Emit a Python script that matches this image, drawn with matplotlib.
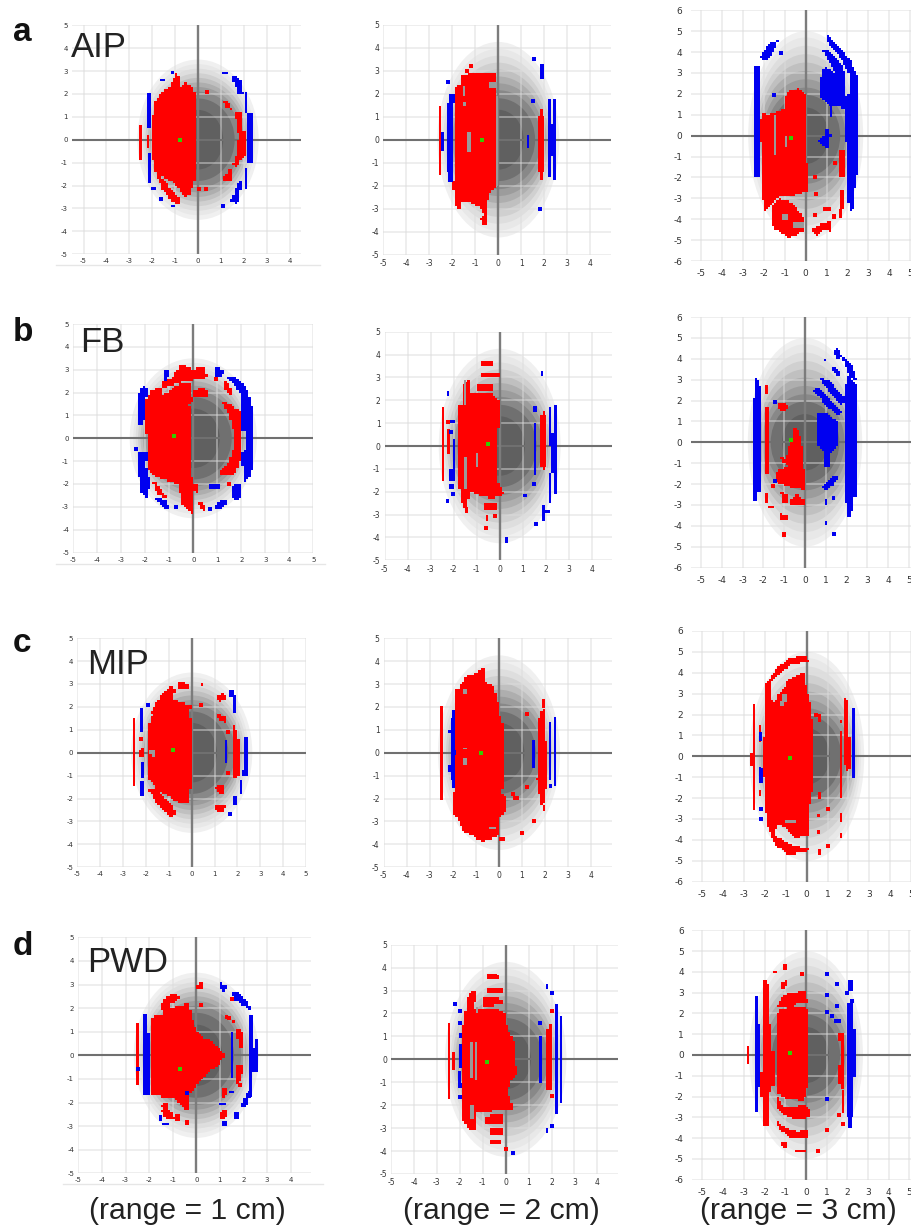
import matplotlib
matplotlib.use('Agg')
import matplotlib.pyplot as plt
import numpy as np
from matplotlib.colors import ListedColormap
from matplotlib.patches import Ellipse, Rectangle
from matplotlib.path import Path
from matplotlib.lines import Line2D

W, H = 912, 1229
RED = '#ff0000'
BLUE = '#0000f0'

# shading levels, outermost first
shade_colors = ['#f0f0f0', '#e8e8e8', '#dedede', '#d0d0d0', '#c0c0c0', '#aeaeae', '#9c9c9c', '#888888', '#707070', '#606060']
col1_hw = [2.65, 2.5, 2.4, 2.3, 2.2, 2.1, 2.0, 1.9, 1.6, 1.1]
col1_hh = [3.5, 3.3, 3.1, 2.9, 2.7, 2.5, 2.3, 2.1, 1.8, 1.3]
col2_hw = [2.65, 2.5, 2.4, 2.3, 2.2, 2.1, 2.0, 1.85, 1.6, 1.1]
col2_hh = [4.25, 3.95, 3.65, 3.35, 3.05, 2.75, 2.45, 2.15, 1.8, 1.3]
col3_hw = [2.75, 2.6, 2.5, 2.4, 2.3, 2.2, 2.05, 1.9, 1.65, 1.1]
col3_hh = [5.0, 4.7, 4.3, 3.9, 3.5, 3.1, 2.7, 2.3, 1.95, 1.35]

xticks_to4 = [-5, -4, -3, -2, -1, 0, 1, 2, 3, 4]
xticks_to5 = [-5, -4, -3, -2, -1, 0, 1, 2, 3, 4, 5]
yticks5 = [-5, -4, -3, -2, -1, 0, 1, 2, 3, 4, 5]
yticks6 = [-6, -5, -4, -3, -2, -1, 0, 1, 2, 3, 4, 5, 6]

# ---- a / AIP
a1_red = [
    [(-1.95, 0.9), (-1.85, 1.55), (-1.5, 1.75), (-1.25, 2.0), (-0.85, 2.1), (-0.55, 2.45), (-0.25, 2.25), (-0.1, 1.9), (-0.1, -1.4), (-0.2, -1.9), (-0.4, -2.4), (-0.6, -2.45), (-0.9, -1.95), (-1.4, -1.65), (-1.8, -1.5), (-1.95, -0.8)],
    [(-1.85, 1.6), (-1.6, 2.0), (-1.25, 2.25), (-0.95, 2.85), (-0.85, 2.75), (-0.85, 2.15), (-1.3, 1.85), (-1.55, 1.7)],
    [(-1.75, -1.6), (-1.5, -2.2), (-1.1, -2.7), (-0.85, -2.75), (-0.85, -2.5), (-1.3, -2.1), (-1.5, -1.75)],
    [(1.65, 1.2), (1.9, 1.15), (1.9, 0.4), (2.05, 0.35), (2.05, -0.6), (1.8, -0.85), (1.7, -1.15), (1.55, -1.1), (1.7, -0.6), (1.75, -0.3), (1.8, 0.2), (1.7, 0.7)],
    [(1.1, 1.7), (1.3, 1.6), (1.45, 1.35), (1.25, 1.45)],
    [(1.1, -1.75), (1.45, -1.25), (1.45, -1.75), (1.3, -1.8)],
]
a1_blue = [
    [(1.5, 2.75), (1.8, 2.7), (1.95, 2.0), (1.8, 2.0), (1.6, 2.5)],
    [(1.45, -2.65), (1.7, -2.75), (1.9, -1.8), (1.75, -1.9), (1.6, -2.4)],
]
a1_red_bars = [(-2.56, -2.45, -0.9, 0.65), (-2.24, -2.14, -0.35, 0.2)]
a1_blue_bars = [(-2.23, -2.05, 0.5, 2.05), (-2.2, -2.05, -1.9, -0.6), (2.12, 2.42, -1.0, 1.15), (2.05, 2.14, 1.15, 2.1), (2.05, 2.14, -2.15, -1.25), (1.05, 1.3, 2.85, 2.95), (-1.2, -1.0, -2.95, -2.85), (-2.05, -1.85, -2.2, -2.05), (-1.65, -1.45, 2.55, 2.65), (-1.2, -1.05, 2.85, 3.0)]
a1_red_dots = [(0.4, 2.1), (0.05, -2.15), (0.35, -2.15)]
a1_blue_dots = [(1.1, -2.9), (-1.6, -2.6)]

a2_red = [
    [(-1.85, -1.4), (-1.85, 2.3), (-1.6, 2.35), (-1.6, 2.75), (-1.2, 2.85), (-0.1, 2.85), (-0.1, -2.0), (-0.4, -2.25), (-0.5, -2.7), (-0.5, -3.3), (-0.8, -2.9), (-1.5, -2.6), (-1.5, -2.3), (-1.65, -3.0), (-1.8, -3.0), (-1.9, -2.4), (-1.95, -2.0)],
    [(-0.75, -3.4), (-0.55, -3.35), (-0.55, -3.65), (-0.7, -3.65)],
]
a2_gaps = [(-1.35, -1.18, -0.55, 0.35), (-1.55, -1.45, 1.9, 2.35), (-1.55, -1.42, 1.45, 1.65), (-0.4, -0.05, 2.25, 2.5), (-0.12, 0.0, -2.0, 1.9)]
a2_red_bars = [(-2.6, -2.48, -1.55, 1.45), (1.74, 2.0, -1.4, 1.05), (1.8, 1.95, -1.75, 1.35)]
a2_blue_bars = [(-2.5, -2.38, -0.5, 0.35), (-2.25, -1.95, -1.4, 1.6), (-2.15, -1.9, 1.6, 2.0), (-2.2, -1.95, -1.85, -1.4), (1.25, 1.35, -0.35, 0.2), (2.15, 2.28, -1.6, 1.75), (2.38, 2.5, -1.75, 1.75), (2.2, 2.45, -0.7, 0.7), (1.8, 1.98, 2.65, 3.3)]
a2_red_dots = [(-1.2, 3.2), (-1.35, 3.0)]
a2_blue_dots = [(-2.2, 2.5), (1.55, 3.5), (1.5, 1.7), (1.8, -3.0)]

a3_red = [
    [(-2.15, 0.4), (-2.1, 1.1), (-1.85, 0.95), (-1.6, 1.05), (-1.0, 1.3), (-0.9, 2.1), (-0.3, 2.25), (-0.05, 1.9), (-0.05, -0.9), (0.1, -1.8), (0.1, -2.6), (-0.7, -2.9), (-1.3, -2.85), (-1.45, -3.1), (-2.0, -3.6), (-2.05, -2.5)],
    [(-1.6, -3.4), (-1.3, -3.05), (-0.6, -3.25), (-0.15, -3.95), (-0.1, -4.5), (-0.6, -4.8), (-0.8, -4.85), (-1.5, -4.4), (-1.6, -4.0)],
    [(0.3, -4.5), (0.7, -4.3), (1.2, -4.1), (1.2, -4.55), (0.9, -4.45), (0.5, -4.75)],
]
a3_gaps = [(-1.5, -1.4, -0.9, 1.0), (-1.0, -0.9, -0.55, 0.0), (-1.15, -0.85, -4.05, -3.75), (-0.6, -0.1, -4.4, -4.15)]
a3_red_bars = [(1.6, 1.9, -2.0, -0.7), (1.65, 1.85, -3.5, -2.6), (1.6, 1.75, -3.95, -3.5), (1.25, 1.45, -4.0, -3.75)]
a3_blue = [
    [(-2.2, 3.7), (-1.7, 4.4), (-1.35, 4.55), (-1.6, 3.95), (-1.85, 3.6)],
    [(1.0, 4.8), (1.5, 4.35), (2.1, 3.6), (2.45, 2.8), (2.45, -1.7), (2.3, -2.6), (2.3, -3.3), (2.15, -3.65), (2.05, -3.0), (2.0, -1.7), (1.95, 1.2), (2.15, 2.5), (2.1, 3.0), (1.6, 3.9), (1.1, 4.4)],
    [(0.85, 4.05), (1.05, 4.1), (1.8, 3.25), (1.9, 2.6), (1.4, 3.1)],
    [(0.9, 3.3), (1.4, 2.95), (1.85, 2.5), (2.0, 1.3), (1.65, 1.4), (1.2, 1.4), (0.9, 1.7), (0.7, 1.9), (0.7, 2.5)],
    [(0.65, -0.25), (0.9, -0.05), (0.95, 0.3), (1.1, 0.3), (1.05, -0.55), (0.85, -0.5)],
]
a3_blue_bars = [(-2.45, -2.2, -2.0, 3.35), (1.15, 1.25, 0.9, 1.6), (1.1, 1.25, -0.05, 0.1)]
a3_red_dots = [(0.45, -2.0), (0.5, -2.8), (0.9, -3.5), (1.1, -3.5), (0.45, -3.8), (1.4, -1.3)]
a3_blue_dots = [(-1.5, 1.95), (-1.2, 3.95)]

# ---- b / FB
b1_red = [
    [(-1.95, 1.6), (-1.75, 2.05), (-1.4, 2.2), (-1.25, 1.85), (-0.9, 2.1), (-0.5, 2.4), (-0.1, 2.4), (-0.07, 1.6), (-0.2, 1.5), (-0.1, 0.95), (-0.1, -0.95), (-0.05, -2.55), (0.0, -3.3), (-0.5, -2.85), (-0.55, -2.0), (-0.85, -1.9), (-1.5, -1.7), (-1.9, -1.25)],
    [(-1.25, 2.45), (-0.9, 2.6), (-0.5, 3.2), (-0.05, 3.0), (-0.05, 2.5), (-0.5, 2.5), (-0.9, 2.35), (-1.25, 2.2)],
    [(0.0, 3.0), (0.4, 3.1), (0.55, 2.7), (0.2, 2.6), (0.0, 2.7)],
    [(0.0, 2.05), (0.5, 2.2), (0.55, 1.85), (0.05, 1.85)],
    [(1.2, 1.6), (1.4, 1.5), (1.95, 1.2), (1.95, -0.95), (1.75, -1.5), (1.3, -1.6), (1.05, -1.5), (1.5, -1.05), (1.7, -0.5), (1.7, 0.3), (1.5, 1.1), (1.3, 1.45)],
    [(1.3, 2.5), (1.55, 2.15), (1.6, 1.95), (1.35, 2.15)],
    [(-1.7, -1.8), (-1.4, -2.2), (-1.15, -2.6), (-1.5, -2.4)],
    [(0.0, -2.0), (0.2, -2.1), (0.2, -2.35), (0.05, -2.3)],
    [(0.27, -2.85), (0.5, -2.9), (0.5, -3.15), (0.3, -3.1)],
]
b1_blue = [
    [(-2.3, 1.8), (-2.1, 2.25), (-1.95, 2.2), (-2.0, 1.4), (-2.1, 0.6), (-2.3, 0.7)],
    [(-2.25, -0.6), (-2.25, -1.5), (-2.1, -2.5), (-1.9, -2.55), (-1.85, -1.8), (-2.0, -1.2), (-1.95, -0.65)],
    [(1.45, 2.7), (1.75, 2.7), (2.2, 2.2), (2.4, 1.5), (2.05, 1.5), (2.0, 2.0), (1.7, 2.4)],
    [(2.05, 1.5), (2.45, 1.4), (2.45, -1.3), (2.3, -1.7), (2.1, -1.85), (2.05, -0.6), (2.25, -0.5), (2.25, 0.3), (2.05, 0.3)],
    [(1.65, -2.1), (2.0, -2.0), (1.95, -2.5), (1.75, -2.75), (1.65, -2.5)],
    [(0.95, 3.1), (1.3, 2.9), (1.1, 2.7), (0.95, 2.75)],
    [(-1.2, 3.0), (-1.05, 3.0), (-1.1, 2.5), (-1.2, 2.55)],
    [(0.95, -2.9), (1.3, -2.7), (1.4, -2.75), (1.15, -3.05), (0.95, -3.05)],
    [(-1.65, -2.6), (-1.1, -2.75), (-1.05, -3.1), (-1.3, -2.9)],
]
b1_red_bars = []
b1_blue_bars = [(-2.45, -2.3, -0.55, -0.4), (0.65, 1.1, -2.2, -2.0)]
b1_red_dots = [(1.5, -2.0), (0.95, 2.6), (-0.7, 2.65)]
b1_blue_dots = [(0.7, -3.1), (-0.7, -3.0)]

b2_red = [
    [(-1.75, -0.3), (-1.75, 1.8), (-1.55, 1.8), (-1.55, 2.6), (-1.35, 2.95), (-1.3, 2.2), (-1.15, 2.3), (-0.4, 2.3), (-0.05, 2.0), (-0.05, 1.7), (-0.1, 0.0), (-0.1, -1.6), (0.15, -2.1), (-0.35, -2.25), (-0.7, -2.2), (-1.3, -1.9), (-1.45, -2.7), (-1.6, -2.6), (-1.7, -2.0), (-1.8, -1.5)],
    [(-0.95, 2.7), (-0.3, 2.7), (-0.3, 2.4), (-0.95, 2.4)],
    [(-0.8, 3.15), (0.0, 3.15), (0.0, 3.0), (-0.8, 3.0)],
    [(-0.75, 3.65), (-0.35, 3.65), (-0.35, 3.5), (-0.75, 3.5)],
    [(-0.7, -2.55), (-0.15, -2.55), (-0.15, -2.8), (-0.7, -2.8)],
]
b2_gaps = [(-1.55, -1.45, 1.8, 2.9), (-1.55, -1.4, -1.9, -0.5), (-1.05, -0.95, -0.9, -0.3)]
b2_red_bars = [(-2.5, -2.4, -1.55, 1.7), (-2.28, -2.15, -0.35, 0.75), (1.75, 2.0, -0.9, 1.35), (1.9, 1.98, -1.05, 1.55), (-0.6, -0.5, -3.3, -3.0), (-1.5, -1.38, -2.95, -2.65)]
b2_blue_bars = [(-2.05, -1.95, -1.1, 0.3), (-2.2, -1.95, -1.55, -1.0), (-2.2, -2.0, -1.9, -1.65), (1.48, 1.58, -1.25, 1.0), (2.15, 2.25, 0.0, 1.7), (2.22, 2.42, -1.2, 0.55), (2.38, 2.48, -2.1, 1.8), (2.15, 2.25, -2.5, -1.2), (-2.3, -2.2, 2.2, 2.4), (1.45, 1.6, 1.5, 1.75), (1.8, 1.9, 3.05, 3.3), (1.0, 1.2, -2.25, -2.1), (0.25, 0.35, -4.25, -4.0), (1.85, 1.95, -3.3, -2.6), (1.9, 2.2, -2.95, -2.8), (-2.35, -2.2, -2.5, -2.3), (-2.15, -1.95, 1.0, 1.15)]
b2_red_dots = [(-2.25, 1.05), (-0.6, -3.6), (-0.2, -3.05)]
b2_blue_dots = [(-2.1, 0.6), (1.5, -1.65), (1.6, -3.4), (-2.05, -2.1)]

b3_red = [
    [(-1.05, -1.0), (-0.75, -0.5), (-0.7, 0.15), (-0.55, 0.15), (-0.55, 0.7), (-0.45, 0.7), (-0.3, 0.35), (-0.1, -0.5), (-0.05, -2.25), (-0.4, -2.2), (-0.8, -2.1), (-1.4, -1.9), (-1.4, -1.45), (-1.1, -1.3), (-0.75, -1.2), (-1.2, -0.6)],
    [(-1.3, 1.8), (-1.05, 1.9), (-0.8, 1.75), (-0.95, 1.5), (-1.15, 1.5)],
    [(-1.15, -2.4), (-0.8, -2.6), (-0.8, -2.9), (-1.05, -2.85)],
    [(-0.7, -2.75), (-0.4, -2.55), (-0.05, -2.75), (-0.05, -2.95), (-0.65, -2.95)],
    [(-1.2, -3.45), (-0.85, -3.55), (-0.85, -3.7), (-1.15, -3.7)],
]
b3_red_bars = [(-1.93, -1.8, 2.3, 2.75), (-1.9, -1.72, -1.5, 1.7), (-1.9, -1.78, -2.9, -2.45), (-1.8, -1.5, -3.15, -3.05), (-1.1, -0.9, -4.45, -4.3)]
b3_blue = [
    [(-2.42, 3.0), (-2.3, 3.05), (-2.15, 2.6), (-2.1, -2.4), (-2.3, -2.4), (-2.35, -2.8), (-2.45, -2.8)],
    [(2.0, 3.2), (2.5, 2.7), (2.5, -2.6), (2.3, -2.6), (2.25, -3.2), (2.1, -3.7), (2.0, -3.2), (1.95, -2.6), (1.9, -0.3), (1.9, 1.4)],
    [(1.85, 4.05), (2.2, 3.7), (2.45, 3.0), (2.1, 3.2), (1.95, 3.7)],
    [(0.65, 1.4), (1.0, 1.35), (1.55, 0.95), (1.55, -0.2), (1.15, -0.55), (1.15, -1.2), (0.95, -1.2), (0.95, -0.45), (0.65, -0.1)],
    [(0.7, 3.1), (1.2, 2.9), (1.85, 2.1), (1.8, 1.8), (1.3, 2.3)],
    [(0.45, 2.5), (0.65, 2.55), (1.85, 1.4), (1.55, 1.35), (1.0, 1.8)],
    [(1.35, 3.6), (1.7, 3.3), (1.6, 3.15), (1.3, 3.45)],
    [(1.55, 4.5), (1.75, 4.15), (1.6, 4.0), (1.45, 4.3)],
    [(0.85, -2.15), (1.45, -1.55), (1.55, -1.7), (1.35, -2.05), (0.9, -2.3)],
]
b3_blue_bars = [(0.95, 1.05, -3.0, -2.7), (0.95, 1.05, -3.95, -3.75), (1.3, 1.45, -2.75, -2.55), (0.9, 1.0, 3.9, 4.0)]
b3_red_dots = [(-1.55, -2.1), (-1.0, -4.45)]
b3_blue_dots = [(-1.45, 1.95), (-1.45, -1.85), (1.4, -4.4)]

# ---- c / MIP
c1_red = [
    [(-1.9, -0.5), (-1.9, 0.9), (-1.75, 1.6), (-1.3, 1.9), (-0.85, 2.35), (-0.45, 2.15), (-0.05, 2.05), (-0.15, 1.75), (-0.05, 1.4), (-0.05, -0.9), (-0.1, -2.2), (-0.45, -2.2), (-0.95, -1.9), (-1.5, -1.6), (-1.85, -1.1)],
    [(-1.8, 1.7), (-1.4, 2.35), (-0.9, 2.9), (-0.7, 2.75), (-0.85, 2.45), (-1.3, 2.05), (-1.65, 1.65)],
    [(-0.6, 3.1), (-0.2, 3.0), (-0.15, 2.85), (-0.55, 2.8)],
    [(-1.85, -1.6), (-1.45, -2.25), (-0.9, -2.75), (-0.75, -2.65), (-0.8, -2.35), (-1.3, -1.95), (-1.6, -1.65)],
    [(1.85, 1.25), (2.05, 0.5), (2.07, -0.9), (1.85, -1.15), (1.8, -0.5), (1.8, 0.4)],
    [(1.08, 1.7), (1.4, 1.6), (1.5, 1.35), (1.15, 1.5)],
    [(1.1, 2.4), (1.4, 2.6), (1.45, 2.3), (1.2, 2.25)],
    [(1.05, -1.5), (1.4, -1.4), (1.4, -1.75), (1.2, -1.75)],
    [(1.0, -2.3), (1.45, -2.35), (1.3, -2.6), (1.1, -2.5)],
    [(-2.3, 0.05), (-2.1, 0.2), (-2.15, -0.2), (-2.3, -0.15)],
]
c1_gaps = [(-1.85, -1.6, -0.05, 0.1), (-1.75, -1.6, -0.2, 0.1)]
c1_red_bars = [(-2.57, -2.46, -1.45, 1.5), (0.4, 0.5, 2.9, 3.05)]
c1_blue_bars = [(-2.25, -2.12, 0.9, 1.95), (-2.2, -2.1, -1.1, -0.4), (-2.28, -2.1, -1.9, -1.25), (1.45, 1.55, -0.45, 0.55), (2.3, 2.45, -0.95, 0.7), (2.2, 2.45, -1.0, -0.75), (2.1, 2.2, -1.8, -1.2), (1.82, 2.0, -2.3, -1.9), (1.8, 1.95, 1.75, 2.5), (1.65, 1.85, 2.45, 2.75), (1.6, 1.75, -2.75, -2.6)]
c1_red_dots = [(-2.2, 0.6), (0.4, 2.1), (1.6, 0.9), (1.6, -0.9)]
c1_blue_dots = [(-1.9, 2.1)]

c2_red = [
    [(-1.9, -0.8), (-1.9, 2.7), (-1.7, 2.8), (-1.4, 3.3), (-0.95, 3.5), (-0.6, 3.7), (-0.6, 3.1), (-0.3, 2.9), (-0.1, 2.3), (0.0, 1.7), (0.15, 1.2), (0.15, -1.3), (0.1, -1.8), (0.25, -2.0), (0.25, -2.6), (0.0, -2.8), (-0.05, -3.5), (-0.2, -3.7), (-0.75, -3.85), (-1.2, -3.55), (-1.5, -3.4), (-1.7, -3.0), (-1.95, -2.6)],
    [(1.75, 1.4), (1.9, 1.9), (2.0, 1.9), (2.05, -1.0), (2.0, -2.1), (1.8, -2.3), (1.75, -1.3), (1.65, -1.2), (1.75, -0.9)],
]
c2_gaps = [(-1.55, -1.4, -0.55, -0.25), (-1.55, -1.4, 0.15, 0.2), (-1.55, -1.4, 2.55, 2.8), (-0.45, -0.15, -3.35, -3.25)]
c2_red_bars = [(-2.55, -2.43, -2.05, 2.05), (1.88, 2.0, 1.95, 2.35), (1.9, 2.0, -2.55, -2.3), (0.0, 0.25, -3.85, -3.7), (1.15, 1.25, -1.55, -1.45), (0.6, 0.85, -2.05, -1.9)]
c2_blue_bars = [(-2.1, -1.9, -1.2, 1.5), (-2.05, -1.9, 1.5, 1.85), (-2.05, -1.9, -1.55, -1.2), (-2.2, -2.0, 0.85, 1.0), (-2.2, -2.0, -0.85, -0.55), (-2.1, -1.85, -0.1, 0.1), (1.45, 1.57, -0.65, 0.55), (2.15, 2.26, -1.2, 1.35), (2.37, 2.48, -1.45, 1.55), (2.18, 2.3, -1.55, -1.35)]
c2_red_dots = [(1.2, 1.7), (1.5, -3.0), (1.0, -3.5), (0.6, -1.8), (1.2, -1.5)]
c2_blue_dots = []

c3_red = [
    [(-1.95, 3.5), (-1.75, 3.6), (-1.7, 2.65), (-1.5, 2.5), (-1.3, 3.0), (-1.0, 3.25), (-0.95, 3.6), (-0.35, 3.9), (-0.1, 3.95), (-0.1, 3.5), (0.05, 2.9), (0.15, 2.4), (0.25, 1.6), (0.25, -1.5), (0.15, -2.0), (0.1, -2.5), (0.1, -3.75), (-0.5, -3.85), (-1.0, -3.4), (-1.4, -3.2), (-1.6, -3.8), (-1.8, -3.5), (-1.9, -2.9), (-2.0, -2.0), (-2.05, 0.0)],
    [(-1.85, 3.5), (-1.4, 4.2), (-0.8, 4.65), (-0.1, 4.8), (0.05, 4.5), (-0.7, 4.45), (-1.4, 3.95), (-1.75, 3.55)],
    [(-1.7, -3.7), (-1.4, -4.3), (-0.9, -4.65), (-0.1, -4.6), (0.05, -4.45), (-0.7, -4.3), (-1.0, -4.15), (-1.45, -3.85)],
    [(1.8, 2.8), (1.95, 2.7), (2.0, 1.0), (2.1, 0.5), (2.1, -0.5), (1.9, -0.65), (1.8, 0.6)],
]
c3_gaps = [(-1.2, -0.95, 2.6, 3.0), (-1.3, -1.1, 2.4, 2.65), (-1.05, -0.5, -3.2, -3.05)]
c3_red_bars = [(-2.58, -2.45, -2.55, 2.5), (-2.7, -2.58, -0.45, 0.15), (-2.3, -2.2, 0.7, 1.5), (-2.27, -2.17, -1.9, -1.6), (1.58, 1.7, -1.5, 1.2), (1.58, 1.7, -2.0, -1.5), (1.6, 1.7, 1.6, 1.75), (1.58, 1.7, -3.15, -2.7), (1.58, 1.7, -3.9, -3.65), (0.55, 0.68, 1.65, 2.0), (0.55, 0.68, -2.05, -1.7), (0.55, 0.68, -4.7, -4.45), (0.5, 0.65, -2.9, -2.75), (0.5, 0.62, -3.7, -3.55)]
c3_blue_bars = [(-2.26, -2.14, 0.75, 1.15), (-2.28, -2.08, -1.3, -0.55), (-2.3, -2.2, -0.9, -0.5), (2.17, 2.3, -1.05, 2.3)]
c3_red_dots = [(1.0, -2.5), (1.0, -4.3), (-1.5, -2.0), (0.45, 2.0)]
c3_blue_dots = [(-2.2, -2.5), (-2.2, -3.0)]

# ---- d / PWD
d1_red = [
    [(-1.85, -1.65), (-1.85, 1.6), (-1.4, 1.7), (-1.25, 1.95), (-0.8, 2.05), (-0.35, 2.15), (-0.15, 1.35), (0.05, 0.95), (0.25, 0.75), (0.7, 0.55), (1.15, 0.0), (0.9, -0.4), (0.5, -0.7), (0.2, -1.0), (-0.05, -1.3), (-0.3, -1.6), (-0.3, -2.3), (-0.5, -2.2), (-1.0, -1.75), (-1.4, -1.75)],
    [(-1.45, 2.1), (-1.3, 2.45), (-0.8, 2.6), (-0.75, 2.4), (-1.1, 2.2), (-1.25, 1.85), (-1.4, 1.7)],
    [(0.1, 3.05), (0.3, 3.05), (0.25, 2.8), (0.05, 2.85)],
    [(-1.45, -2.2), (-1.25, -1.95), (-1.25, -2.15), (-1.4, -2.25)],
    [(-1.45, -2.3), (-1.2, -2.25), (-1.0, -2.55), (-1.1, -2.7), (-1.35, -2.6)],
    [(-0.95, -2.65), (-0.7, -2.5), (-0.7, -2.65), (-0.85, -2.8)],
    [(1.1, -1.5), (1.25, -1.45), (1.3, -1.65), (1.15, -1.75)],
    [(1.0, -2.5), (1.25, -2.3), (1.3, -2.55), (1.05, -2.7)],
    [(1.75, 1.1), (1.95, 0.9), (1.95, 0.3), (1.8, 0.4)],
    [(1.75, -0.4), (1.95, -0.45), (1.9, -1.05), (1.75, -1.15)],
]
d1_red_bars = [(-2.55, -2.42, -1.25, 1.35), (-0.48, -0.32, -2.95, -2.75), (1.2, 1.35, 1.55, 1.7), (1.5, 1.65, 1.35, 1.5)]
d1_blue_bars = [(-2.25, -1.98, -1.7, 0.95), (-2.25, -2.1, 0.95, 1.75), (1.45, 1.55, -0.95, 1.0), (2.25, 2.4, 0.0, 1.7), (2.22, 2.5, -0.7, 0.3), (2.5, 2.62, -0.7, 0.7), (2.22, 2.38, -1.75, -0.7), (0.95, 1.25, -2.1, -2.03), (1.4, 1.6, -1.6, -1.52), (-1.6, -1.45, -2.8, -2.55), (-1.45, -1.15, -2.95, -2.85), (1.6, 1.82, -2.7, -2.4), (1.1, 1.3, -2.98, -2.8)]
d1_blue = [
    [(1.55, 2.7), (1.8, 2.6), (2.2, 2.15), (2.25, 1.95), (1.9, 2.2), (1.6, 2.4)],
    [(1.9, -2.1), (2.05, -1.9), (2.25, -1.45), (2.2, -2.0), (2.0, -2.15)],
    [(1.05, 3.05), (1.3, 2.95), (1.2, 2.75), (1.05, 2.85)],
]
d1_red_dots = [(1.5, 2.4), (0.2, 2.15), (1.4, 1.6), (1.85, -1.25)]
d1_blue_dots = [(-2.45, -0.6), (-0.4, -1.6)]

d2_red = [
    [(-1.9, -0.6), (-1.9, 1.35), (-1.75, 1.7), (-1.7, 2.5), (-1.45, 3.0), (-1.35, 2.9), (-1.4, 2.2), (-0.4, 2.2), (-0.05, 1.95), (0.05, 1.3), (0.4, 0.6), (0.4, 0.0), (0.45, -0.6), (0.2, -0.9), (0.05, -1.5), (0.25, -1.95), (0.25, -2.2), (-0.4, -2.2), (-1.3, -2.3), (-1.3, -3.05), (-1.6, -3.05), (-1.85, -2.6), (-1.85, -1.6)],
    [(-0.95, 2.7), (-0.1, 2.6), (-0.1, 2.4), (-0.95, 2.35)],
    [(-0.75, 3.1), (-0.15, 3.1), (-0.15, 2.95), (-0.75, 2.95)],
    [(-0.75, 3.7), (-0.45, 3.7), (-0.45, 3.5), (-0.75, 3.5)],
    [(-0.85, -2.5), (-0.1, -2.4), (-0.1, -2.8), (-0.85, -2.8)],
    [(-0.7, -3.0), (-0.1, -3.0), (-0.1, -3.25), (-0.7, -3.25)],
    [(-0.7, -3.5), (-0.2, -3.5), (-0.2, -3.7), (-0.7, -3.7)],
]
d2_gaps = [(-1.35, -1.25, -0.9, 0.75), (-1.55, -1.42, -0.8, 0.75), (-1.55, -1.4, -2.6, -2.0), (-1.3, -1.2, 2.0, 2.3)]
d2_red_bars = [(-2.53, -2.42, -1.75, 1.6), (-2.35, -2.22, -0.45, 0.3), (1.75, 2.0, -1.35, 1.3), (1.9, 2.02, -1.2, 1.55)]
d2_blue_bars = [(-2.05, -1.92, -0.4, 0.65), (-2.07, -1.95, -1.2, -0.5), (-2.1, -1.9, -1.25, -1.05), (-2.08, -1.92, -1.75, -1.55), (-2.05, -1.92, 0.95, 1.15), (1.47, 1.57, -1.05, 1.02), (2.15, 2.28, -2.4, 2.4), (2.37, 2.47, -1.9, 1.9), (1.75, 1.85, 3.05, 3.3), (1.75, 1.85, -3.2, -3.0)]
d2_red_dots = [(2.0, 2.1), (2.0, -1.6), (0.0, -3.9), (-0.4, 3.6)]
d2_blue_dots = [(-2.2, 2.4), (-2.0, 2.1), (-2.0, 1.6), (1.5, 1.6), (2.0, 2.9), (2.0, -2.9), (0.3, -4.1)]

d3_red = [
    [(-1.4, -1.8), (-1.4, 1.8), (-1.2, 2.2), (-0.05, 2.3), (0.1, 2.0), (0.1, -1.3), (-0.0, -1.6), (-0.1, -2.15), (-0.65, -2.1), (-1.1, -2.0)],
    [(-1.35, 2.3), (-1.15, 2.8), (-0.7, 3.0), (-0.05, 3.05), (0.05, 2.55), (-0.45, 2.5), (-0.7, 2.3), (-1.1, 2.35)],
    [(-2.05, 3.55), (-1.9, 3.5), (-1.8, 2.8), (-1.75, 0.2), (-1.55, 0.2), (-1.55, -1.45), (-1.75, -1.5), (-1.85, -2.7), (-1.85, -3.4), (-2.05, -3.4), (-2.05, -2.8), (-2.15, -1.7), (-2.1, 0.0), (-2.05, 2.5)],
    [(-1.4, -2.0), (-1.1, -2.55), (-0.6, -2.5), (-0.1, -2.45), (0.15, -2.7), (0.15, -3.0), (-0.55, -3.1), (-1.0, -2.85), (-1.4, -2.5)],
    [(-1.4, -3.25), (-1.0, -3.5), (-0.5, -3.7), (0.05, -3.65), (0.05, -3.95), (-0.7, -3.95), (-1.2, -3.6)],
    [(-1.2, 3.45), (-0.95, 3.55), (-0.95, 3.3), (-1.2, 3.2)],
    [(-1.2, -4.2), (-0.9, -4.3), (-0.9, -4.45), (-1.1, -4.45)],
]
d3_red_bars = [(-1.1, -0.9, 4.1, 4.4), (-1.6, -1.4, 3.95, 4.05), (-2.87, -2.75, -0.45, 0.45), (1.55, 1.68, 0.65, 1.05), (1.7, 1.82, -1.65, 1.05), (1.55, 1.7, -1.4, -0.5), (1.75, 1.85, -2.8, -1.7), (-0.55, -0.0, -4.65, -4.55)]
d3_blue_bars = [(-2.45, -2.33, -2.75, 2.85), (-2.38, -2.2, -1.55, 1.5), (2.0, 2.4, -1.05, 1.25), (2.0, 2.25, -3.0, 2.5), (2.05, 2.25, 3.1, 3.6), (2.05, 2.2, -3.5, -3.0)]
d3_red_dots = [(-0.2, 3.9), (1.0, -3.6), (0.6, -4.6), (1.8, -3.3), (1.6, -2.9)]
d3_blue_dots = [(1.0, 3.9), (1.5, 3.4), (1.0, 2.9), (1.5, 2.35), (1.0, 2.05), (1.25, 1.9), (1.45, 1.65), (1.6, 1.65), (1.0, -2.1), (2.2, 2.6), (2.0, 3.0)]

panels = [
    # zero px x, zero px y, unit x, unit y, xlim, ylim, xticks, yticks, shape, red, blue, gaps, red bars, blue bars, red dots, blue dots, centre
    (198.0, 139.7, 22.9, 22.9, (-5.5, 4.5), (-5, 5), xticks_to4, yticks5, 1, a1_red, a1_blue, [], a1_red_bars, a1_blue_bars, a1_red_dots, a1_blue_dots, (-0.8, 0.0)),
    (498.3, 139.7, 23.0, 23.0, (-5, 4.9), (-5, 5), xticks_to4, yticks5, 2, a2_red, [], a2_gaps, a2_red_bars, a2_blue_bars, a2_red_dots, a2_blue_dots, (-0.7, 0.0)),
    (805.7, 135.7, 20.9, 20.9, (-5.5, 5.1), (-6, 6), xticks_to5, yticks6, 3, a3_red, a3_blue, a3_gaps, a3_red_bars, a3_blue_bars, a3_red_dots, a3_blue_dots, (-0.7, -0.1)),
    (193.3, 438.3, 24.0, 22.85, (-5, 5), (-5, 5), xticks_to5, yticks5, 1, b1_red, b1_blue, [], b1_red_bars, b1_blue_bars, b1_red_dots, b1_blue_dots, (-0.8, 0.1)),
    (499.7, 446.0, 23.0, 22.87, (-5, 4.88), (-5, 5), xticks_to4, yticks5, 2, b2_red, [], b2_gaps, b2_red_bars, b2_blue_bars, b2_red_dots, b2_blue_dots, (-0.5, 0.1)),
    (805.0, 442.3, 20.8, 20.87, (-5.5, 5.1), (-6, 6), xticks_to5, yticks6, 3, b3_red, b3_blue, [], b3_red_bars, b3_blue_bars, b3_red_dots, b3_blue_dots, (-0.65, 0.1)),
    (191.7, 752.7, 22.87, 22.9, (-5, 5), (-5, 5), xticks_to5, yticks5, 1, c1_red, [], c1_gaps, c1_red_bars, c1_blue_bars, c1_red_dots, c1_blue_dots, (-0.8, 0.1)),
    (499.0, 752.7, 23.04, 22.9, (-5, 4.9), (-5, 5), xticks_to4, yticks5, 2, c2_red, [], c2_gaps, c2_red_bars, c2_blue_bars, c2_red_dots, c2_blue_dots, (-0.8, 0.0)),
    (806.7, 756.3, 20.9, 20.9, (-5.5, 5.1), (-6, 6), xticks_to5, yticks6, 3, c3_red, [], c3_gaps, c3_red_bars, c3_blue_bars, c3_red_dots, c3_blue_dots, (-0.8, -0.1)),
    (196.3, 1055.3, 23.6, 23.6, (-5, 4.86), (-5, 5), xticks_to4, yticks5, 1, d1_red, d1_blue, [], d1_red_bars, d1_blue_bars, d1_red_dots, d1_blue_dots, (-0.7, -0.6)),
    (505.7, 1059.3, 22.93, 22.93, (-5, 4.88), (-5, 5), xticks_to4, yticks5, 2, d2_red, [], d2_gaps, d2_red_bars, d2_blue_bars, d2_red_dots, d2_blue_dots, (-0.8, -0.1)),
    (806.0, 1055.0, 20.7, 20.77, (-5.5, 5.1), (-6, 6), xticks_to5, yticks6, 3, d3_red, [], [], d3_red_bars, d3_blue_bars, d3_red_dots, d3_blue_dots, (-0.75, 0.1)),
]
shapes = {1: (col1_hw, col1_hh), 2: (col2_hw, col2_hh), 3: (col3_hw, col3_hh)}
tick_sizes = {1: 5.0, 2: 5.5, 3: 6.5}
tick_pads = {1: 3, 2: 3, 3: 6}

letters = [('a', 13, 41), ('b', 13, 341), ('c', 13, 652), ('d', 13, 955)]
methods = [('AIP', 71, 57), ('FB', 80, 352), ('MIP', 87, 674), ('PWD', 87, 972)]
ranges = [('(range = 1 cm)', 187), ('(range = 2 cm)', 501), ('(range = 3 cm)', 798)]

# the regions are made of small square cells in the original
edges = np.arange(-6, 6.05, 0.1)
cx, cy = np.meshgrid(edges[:-1], edges[:-1])


def cell_mask(polys):
    mask = np.zeros(cx.shape, dtype=bool)
    for poly in polys:
        path = Path(poly + [poly[0]])
        for fx in (0.25, 0.75):
            for fy in (0.25, 0.75):
                pts = np.column_stack([(cx + fx * 0.1).ravel(), (cy + fy * 0.1).ravel()])
                mask |= path.contains_points(pts).reshape(cx.shape)
    return mask


def draw_cells(ax, polys, color):
    if not polys:
        return
    mask = cell_mask(polys)
    ax.pcolormesh(edges, edges, np.ma.masked_where(~mask, mask.astype(float)),
                  cmap=ListedColormap([color]), zorder=4)


fig = plt.figure(figsize=(W / 100, H / 100), dpi=100)
plt.rcParams['font.family'] = ['Liberation Sans', 'DejaVu Sans']

for p in panels:
    zx, zy, ux, uy, xlim, ylim, xt, yt, shape, red, blue, gaps, red_bars, blue_bars, red_dots, blue_dots, centre = p
    left = zx + xlim[0] * ux
    width = (xlim[1] - xlim[0]) * ux
    bottom = H - (zy - ylim[0] * uy)
    height = (ylim[1] - ylim[0]) * uy
    ax = fig.add_axes([left / W, bottom / H, width / W, height / H])
    for s in ax.spines.values():
        s.set_visible(False)

    # shaded dose region, largest first
    hw, hh = shapes[shape]
    for w, h, c in zip(hw, hh, shade_colors):
        ax.add_patch(Ellipse((0, 0), 2 * w, 2 * h, facecolor=c, edgecolor='none', zorder=1))

    ax.set_xticks(xt)
    ax.set_yticks(yt)
    ax.set_xticklabels([str(v) for v in xt], fontsize=tick_sizes[shape], color='#333333', family='DejaVu Sans')
    ax.set_yticklabels([str(v) for v in yt], fontsize=tick_sizes[shape], color='#333333', family='DejaVu Sans')
    ax.tick_params(length=0, pad=tick_pads[shape])
    ax.set_axisbelow(False)
    ax.grid(color='#dcdcdc', linewidth=1.1, alpha=0.6, zorder=2)
    ax.axhline(0, color='#707070', linewidth=1.5, zorder=3)
    ax.axvline(0, color='#7c7c7c', linewidth=1.7, zorder=3)

    draw_cells(ax, blue, BLUE)
    draw_cells(ax, red, RED)
    for x0, x1, y0, y1 in red_bars:
        ax.add_patch(Rectangle((x0, y0), x1 - x0, y1 - y0, facecolor=RED, edgecolor='none', zorder=4))
    for x0, x1, y0, y1 in blue_bars:
        ax.add_patch(Rectangle((x0, y0), x1 - x0, y1 - y0, facecolor=BLUE, edgecolor='none', zorder=4))
    for x0, x1, y0, y1 in gaps:
        ax.add_patch(Rectangle((x0, y0), x1 - x0, y1 - y0, facecolor='#9a9a9a', edgecolor='none', zorder=5))
    if red_dots:
        ax.scatter(*zip(*red_dots), s=7, color=RED, marker='s', linewidths=0, zorder=4)
    if blue_dots:
        ax.scatter(*zip(*blue_dots), s=7, color=BLUE, marker='s', linewidths=0, zorder=4)
    ax.scatter([centre[0]], [centre[1]], s=5, color='#33cc00', marker='s', linewidths=0, zorder=6)
    ax.set_xlim(xlim)
    ax.set_ylim(ylim)

# light strips under the left column
for x0, x1, y in [(56, 320, 265), (56, 325, 564), (63, 323, 1184)]:
    fig.add_artist(Line2D([x0 / W, x1 / W], [1 - y / H, 1 - y / H], color='#e6e6e6', linewidth=1))

for s, x, y in letters:
    fig.text(x / W, 1 - y / H, s, fontsize=24, fontweight='bold', color='#111111', va='baseline', ha='left')
for s, x, y in methods:
    fig.text(x / W, 1 - y / H, s, fontsize=25, color='#222222', va='baseline', ha='left')
for s, x in ranges:
    fig.text(x / W, 1 - 1211 / H, s, fontsize=21.7, color='#222222', va='center', ha='center')

fig.savefig('out.png', dpi=100)
